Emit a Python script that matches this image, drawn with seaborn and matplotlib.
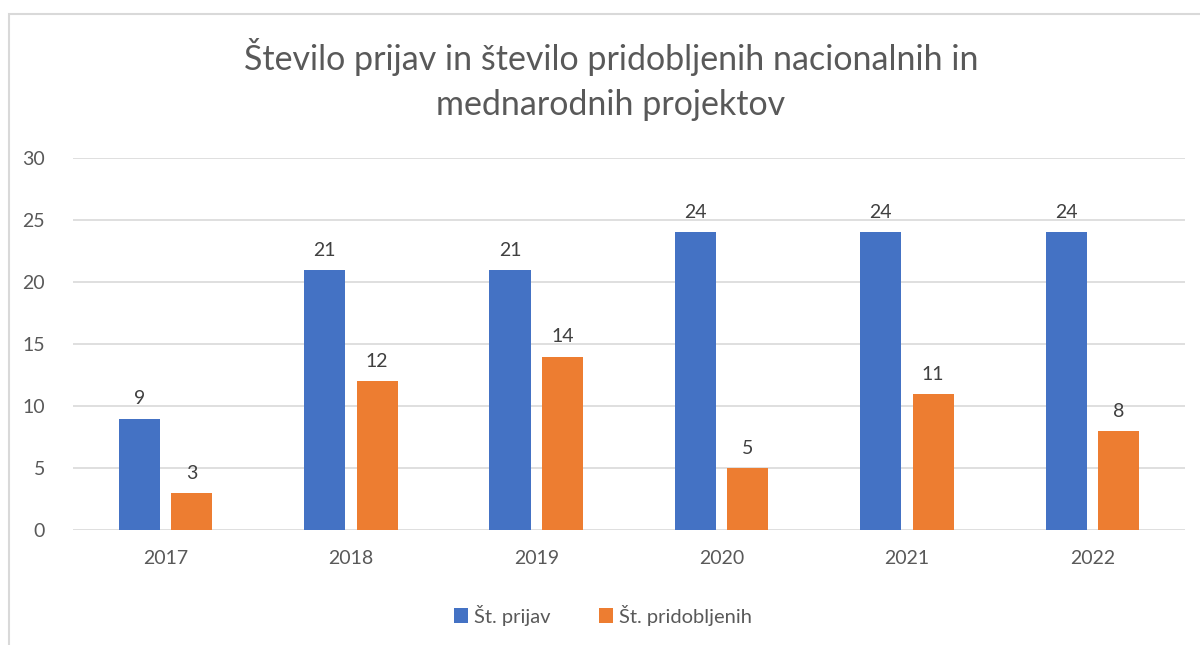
import pandas as pd
import matplotlib.pyplot as plt
import seaborn as sns
from matplotlib.patches import Rectangle

# Chart data
years = ["2017", "2018", "2019", "2020", "2021", "2022"]
prijave = [9, 21, 21, 24, 24, 24]
pridobljeni = [3, 12, 14, 5, 11, 8]
series_names = ["Št. prijav", "Št. pridobljenih"]
colors = ["#4472C4", "#ED7D31"]

df = pd.DataFrame({
    "Leto": years * 2,
    "Vrednost": prijave + pridobljeni,
    "Serija": [series_names[0]] * len(years) + [series_names[1]] * len(years),
})

sns.set_style("white")
plt.rcParams["font.family"] = ["Lato", "DejaVu Sans"]

fig = plt.figure(figsize=(12, 6.45), dpi=100)
ax = fig.add_axes([0.0608, 0.178, 0.9267, 0.577])

sns.barplot(data=df, x="Leto", y="Vrednost", hue="Serija", palette=colors,
            width=0.566, gap=0.215, ax=ax, saturation=1, linewidth=0)

# Data labels
for container in ax.containers:
    ax.bar_label(container, padding=8, fontsize=14, color="#404040")

ax.set_ylim(0, 30)
ax.set_yticks(range(0, 31, 5))
ax.yaxis.grid(True, color="#d9d9d9", linewidth=1.2)
ax.set_axisbelow(True)
for s in ax.spines.values():
    s.set_visible(False)
ax.tick_params(axis="both", length=0, labelsize=14, labelcolor="#595959")
ax.tick_params(axis="x", pad=14)
ax.tick_params(axis="y", pad=20)
ax.set_xlabel("")
ax.set_ylabel("")

ax.legend(loc="center", bbox_to_anchor=(0.477, -0.228), ncol=2, frameon=False,
          fontsize=14.5, handlelength=0.7, handleheight=0.7, handletextpad=0.3,
          columnspacing=2.4, labelcolor="#595959")

fig.text(0.509, 0.8775, "Število prijav in število pridobljenih nacionalnih in\nmednarodnih projektov",
         ha="center", va="center", fontsize=24.5, color="#595959", linespacing=1.5)

# Chart frame
fig.patches.append(Rectangle((0.0075, -0.05), 1.1, 1.028, transform=fig.transFigure,
                             fill=False, edgecolor="#d9d9d9", linewidth=1.5))

plt.savefig("out.png", dpi=100)
